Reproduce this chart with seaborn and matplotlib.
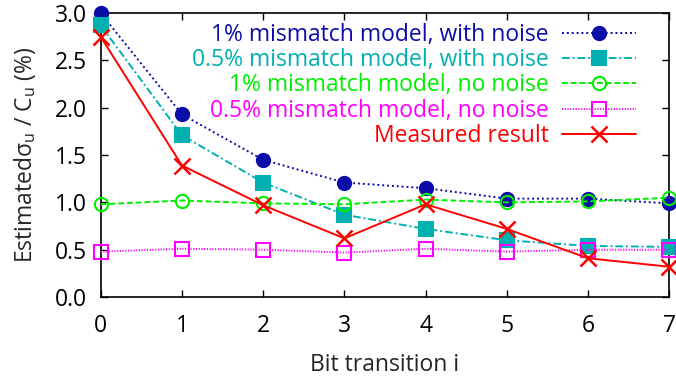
import matplotlib
matplotlib.use("Agg")
import matplotlib.pyplot as plt
import seaborn as sns
import pandas as pd

# Bit transition index
bits = [0, 1, 2, 3, 4, 5, 6, 7]

# Estimated sigma_u / C_u (%) for each series
mm1_noise = [3.00, 1.93, 1.45, 1.21, 1.15, 1.04, 1.04, 0.99]
mm05_noise = [2.87, 1.71, 1.21, 0.87, 0.72, 0.60, 0.54, 0.53]
mm1_clean = [0.98, 1.02, 0.99, 0.98, 1.03, 1.00, 1.01, 1.05]
mm05_clean = [0.48, 0.51, 0.50, 0.47, 0.51, 0.48, 0.50, 0.50]
measured = [2.75, 1.39, 0.97, 0.62, 0.98, 0.72, 0.41, 0.32]

labels = [
    "1% mismatch model, with noise",
    "0.5% mismatch model, with noise",
    "1% mismatch model, no noise",
    "0.5% mismatch model, no noise",
    "Measured result",
]
yticks = [0.0, 0.5, 1.0, 1.5, 2.0, 2.5, 3.0]

sns.set_theme(style="ticks")
plt.rcParams["font.family"] = ["Open Sans", "DejaVu Sans"]
plt.rcParams["mathtext.fontset"] = "dejavusans"

FS = 16.5

fig = plt.figure(figsize=(6.76, 3.76), dpi=100)
ax = fig.add_axes([0.149, 0.21, 0.841, 0.755])

series = [
    (mm1_noise, "#0c0ca8", "o", (0, (1, 1.5)), "#0c0ca8"),
    (mm05_noise, "#00b0b0", "s", (0, (4, 1.5, 1, 1.5)), "#00b0b0"),
    (mm1_clean, "#00ee00", "o", (0, (3, 1.5)), "none"),
    (mm05_clean, "#ff00ff", "s", (0, (0.6, 0.8)), "none"),
    (measured, "#ff0000", "x", "-", "#ff0000"),
]

for vals, color, marker, ls, face in series:
    df = pd.DataFrame({"bit": bits, "val": vals})
    sns.lineplot(data=df, x="bit", y="val", ax=ax, color=color, marker=marker,
                 linestyle=ls, linewidth=1.4, markersize=9.5 if marker != "x" else 11,
                 markerfacecolor=face, markeredgecolor=color,
                 markeredgewidth=1.5 if marker != "x" else 1.8,
                 clip_on=False, zorder=3)

ax.set_xlim(0, 7)
ax.set_ylim(0, 3.0)
ax.set_xticks(bits)
ax.set_yticks(yticks)
ax.set_yticklabels([f"{t:.1f}" for t in yticks])
ax.tick_params(direction="in", top=True, right=True, labelsize=FS, length=5,
               width=1, colors="black")
ax.tick_params(axis="x", pad=12)
ax.tick_params(axis="y", pad=10)
for s in ax.spines.values():
    s.set_linewidth(1.2)
    s.set_color("black")

ax.set_xlabel("Bit transition i", fontsize=FS, labelpad=11)
ax.set_ylabel(r"Estimated$\mathregular{\sigma_u}$ / $\mathregular{C_u}$ (%)", fontsize=FS, labelpad=12)

handles = ax.get_lines()
leg = ax.legend(handles, labels, loc="upper right", frameon=False, markerfirst=False,
                fontsize=FS, handlelength=3.2, labelspacing=0.06, handletextpad=0.6,
                borderaxespad=0.2, bbox_to_anchor=(0.965, 1.015))
leg._legend_box.align = "right"
for txt, (_, color, _, _, _) in zip(leg.get_texts(), series):
    txt.set_color(color)
    txt.set_horizontalalignment("right")

fig.savefig("out.png", dpi=100)
